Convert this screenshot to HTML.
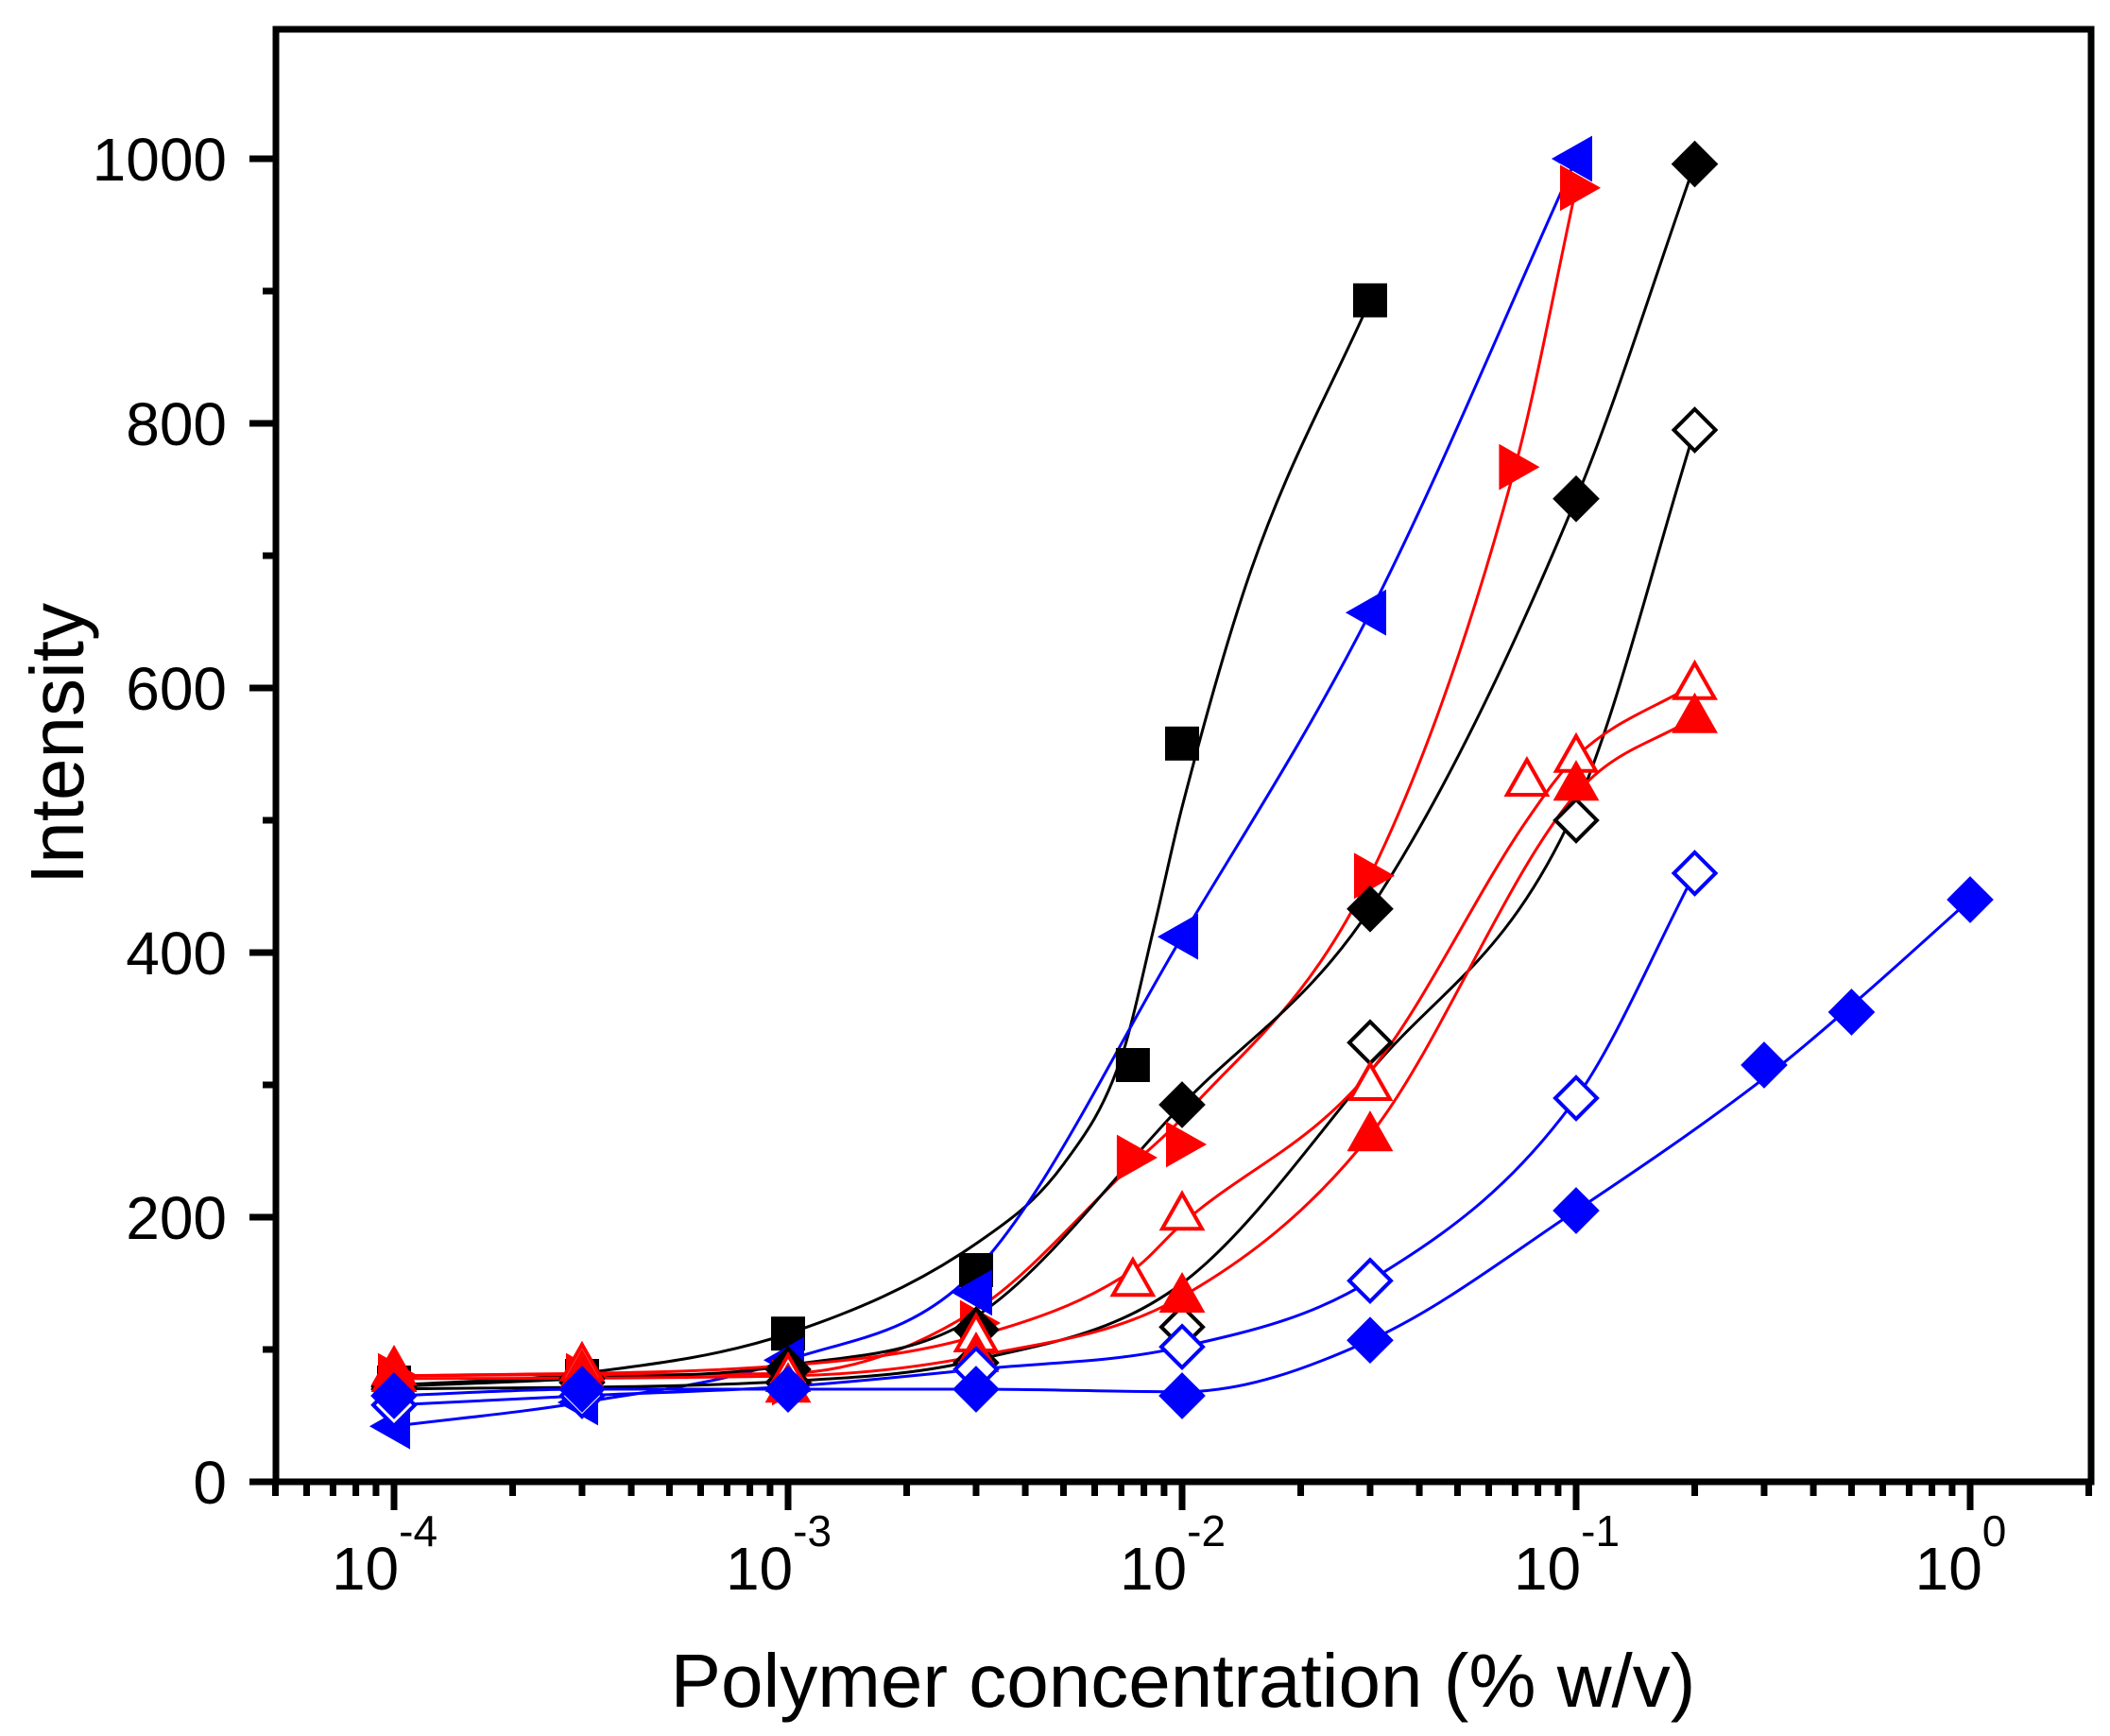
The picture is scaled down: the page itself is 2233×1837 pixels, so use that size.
<!DOCTYPE html>
<html><head><meta charset="utf-8"><style>
html,body{margin:0;padding:0;background:#fff;}
svg{display:block;}
text{font-family:"Liberation Sans",Arial,sans-serif;fill:#000;}
</style></head><body>
<svg id="s" width="2233" height="1837" viewBox="0 0 2233 1837" xmlns="http://www.w3.org/2000/svg">
<rect width="2233" height="1837" fill="#fff"/>
<g id="plot"></g>
<rect x="292" y="31" width="1921" height="1537" fill="none" stroke="#000" stroke-width="7"/>
<g id="ax"></g>
<text x="1252" y="1806" font-size="80" text-anchor="middle">Polymer concentration (% w/v)</text>
<text transform="translate(88,787) rotate(-90)" font-size="80" text-anchor="middle">Intensity</text>
</svg>
<script>
const NS="http://www.w3.org/2000/svg";
const X=l=>417+(l+4)*417;
const xv=v=>X(Math.log10(v));
const Y=v=>1568-v*1.40;
const plot=document.getElementById('plot'),ax=document.getElementById('ax');
function el(p,tag,a,txt){const e=document.createElementNS(NS,tag);for(const k in a)e.setAttribute(k,a[k]);if(txt!==undefined)e.textContent=txt;p.appendChild(e);return e;}
for(let v=0;v<=1000;v+=100){const y=Y(v);const maj=v%200==0;el(ax,'line',{x1:292-(maj?28:14),x2:292,y1:y,y2:y,stroke:'#000','stroke-width':7});
 if(maj)el(ax,'text',{x:240,y:y+23,'font-size':64,'text-anchor':'end'},String(v));}
for(let d=-5;d<=0;d++){for(let m=1;m<10;m++){const l=d+Math.log10(m);const x=X(l);if(x<290||x>2215)continue;
 el(ax,'line',{x1:x,x2:x,y1:1568,y2:1568+(m==1?30:15),stroke:'#000','stroke-width':7});}}
for(let d=-4;d<=0;d++){const x=X(d);const t=el(ax,'text',{x:x-10,y:1682,'font-size':64,'text-anchor':'middle'});
 t.textContent='10';el(t,'tspan',{dy:-46,'font-size':46},(d<0?'-':'')+Math.abs(d));}
const K='#000',R='#ff0000',B='#0000ff';
// [color, marker, filled, points, curve guide points]
const series=[
 [K,'sq',1,[[1e-4,75],[3e-4,80],[1e-3,112],[3e-3,160],[7.5e-3,315],[1e-2,558],[3e-2,893]],
   [[1e-4,73],[3e-4,82],[1e-3,112],[3e-3,180],[5e-3,240],[7e-3,320],[8.5e-3,420],[1e-2,510],[1.5e-2,690],[3e-2,893]]],
 [B,'tl',1,[[1e-4,42],[3e-4,60],[1e-3,92],[3e-3,143],[1e-2,412],[3e-2,657],[1e-1,1000]],
   [[1e-4,42],[3e-4,60],[1e-3,92],[3e-3,160],[1e-2,412],[3e-2,657],[1e-1,1000]]],
 [R,'tr',1,[[1e-4,80],[3e-4,80],[1e-3,75],[3e-3,120],[7.5e-3,245],[1e-2,255],[3e-2,458],[7e-2,767],[1e-1,978]],
   [[1e-4,80],[3e-4,81],[1e-3,82],[3e-3,130],[7.5e-3,240],[1e-2,275],[3e-2,458],[7e-2,767],[1e-1,978]]],
 [K,'di',1,[[1e-4,72],[3e-4,78],[1e-3,85],[3e-3,115],[1e-2,285],[3e-2,433],[1e-1,743],[2e-1,996]],
   [[1e-4,72],[3e-4,78],[1e-3,88],[3e-3,125],[1e-2,285],[3e-2,433],[1e-1,743],[2e-1,996]]],
 [K,'di',0,[[1e-4,70],[3e-4,75],[1e-3,75],[3e-3,90],[1e-2,117],[3e-2,332],[1e-1,500],[2e-1,795]],
   [[1e-4,70],[1e-3,76],[3e-3,92],[1e-2,150],[3e-2,310],[1e-1,510],[2e-1,795]]],
 [R,'tu',0,[[1e-4,85],[3e-4,88],[1e-3,80],[3e-3,110],[7.5e-3,152],[1e-2,202],[3e-2,300],[7.5e-2,530],[1e-1,548],[2e-1,603]],
   [[1e-4,80],[1e-3,88],[3e-3,110],[7.5e-3,160],[1e-2,195],[3e-2,310],[7.5e-2,500],[1e-1,548],[2e-1,603]]],
 [R,'tu',1,[[1e-4,80],[3e-4,82],[1e-3,72],[3e-3,95],[1e-2,140],[3e-2,262],[1e-1,527],[2e-1,578]],
   [[1e-4,78],[1e-3,80],[3e-3,95],[1e-2,140],[3e-2,262],[1e-1,520],[2e-1,578]]],
 [B,'di',0,[[1e-4,58],[3e-4,65],[1e-3,70],[3e-3,85],[1e-2,102],[3e-2,152],[1e-1,290],[2e-1,460]],
   [[1e-4,58],[3e-4,65],[1e-3,72],[3e-3,85],[1e-2,102],[3e-2,152],[1e-1,290],[2e-1,460]]],
 [B,'di',1,[[1e-4,65],[3e-4,70],[1e-3,70],[3e-3,70],[1e-2,65],[3e-2,107],[1e-1,205],[3e-1,315],[5e-1,355],[1,440]],
   [[1e-4,65],[3e-4,70],[1e-3,70],[3e-3,70],[1e-2,68],[3e-2,107],[1e-1,205],[3e-1,305],[5e-1,360],[1,440]]]
];
function monotone(pts){ // pts in pixel space, x increasing
 const n=pts.length,dx=[],m=[],t=[];
 for(let i=0;i<n-1;i++){dx[i]=pts[i+1][0]-pts[i][0];m[i]=(pts[i+1][1]-pts[i][1])/dx[i];}
 t[0]=m[0];t[n-1]=m[n-2];
 for(let i=1;i<n-1;i++){t[i]=(m[i-1]*m[i]<=0)?0:(m[i-1]+m[i])/2;}
 for(let i=0;i<n-1;i++){if(m[i]==0){t[i]=0;t[i+1]=0;continue;}const a=t[i]/m[i],b=t[i+1]/m[i],s=a*a+b*b;if(s>9){const k=3/Math.sqrt(s);t[i]=k*a*m[i];t[i+1]=k*b*m[i];}}
 let d=`M${pts[0][0]},${pts[0][1]}`;
 for(let i=0;i<n-1;i++){const h=dx[i]/3;d+=` C${pts[i][0]+h},${pts[i][1]+t[i]*h} ${pts[i+1][0]-h},${pts[i+1][1]-t[i+1]*h} ${pts[i+1][0]},${pts[i+1][1]}`;}
 return d;}
function marker(c,t,f,x,y){const a={fill:f?c:'#fff',stroke:c,'stroke-width':4};let pts;
 if(t=='sq'){el(plot,'rect',Object.assign({x:x-16,y:y-16,width:32,height:32},a));return;}
 if(t=='di')pts=[[x,y-22],[x+22,y],[x,y+22],[x-22,y]];
 if(t=='tu')pts=[[x,y-22],[x+21,y+15],[x-21,y+15]];
 if(t=='tl')pts=[[x-22,y],[x+15,y-21],[x+15,y+21]];
 if(t=='tr')pts=[[x+22,y],[x-15,y-21],[x-15,y+21]];
 el(plot,'polygon',Object.assign({points:pts.map(p=>p.join(',')).join(' ')},a));}
for(const [c,t,f,d,g] of series){const pts=g.map(p=>[xv(p[0]),Y(p[1])]);
 el(plot,'path',{d:monotone(pts),fill:'none',stroke:c,'stroke-width':3});}
for(const [c,t,f,d] of series){for(const p of d)marker(c,t,f,xv(p[0]),Y(p[1]));}
</script>
</body></html>
